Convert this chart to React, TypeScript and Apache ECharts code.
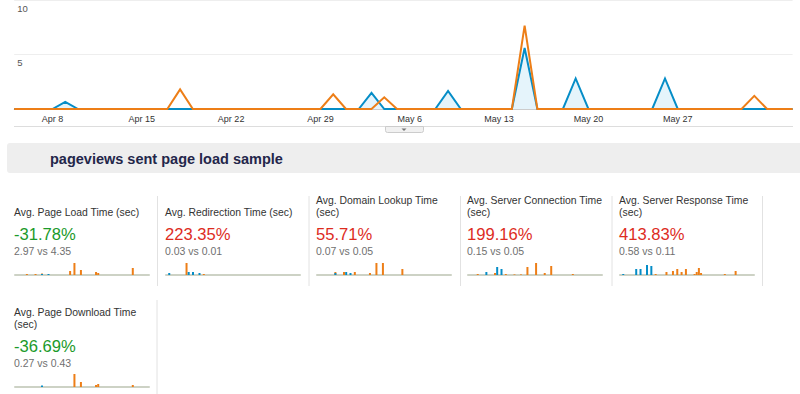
import React, { useEffect, useRef } from "react";
import * as echarts from "echarts";

// ---------- data ----------
const MONTHS = ["Jan", "Feb", "Mar", "Apr", "May", "Jun", "Jul", "Aug", "Sep", "Oct", "Nov", "Dec"];
const START_YEAR = 2013;
const START_MONTH = 3; // April (0-based)
const START_DAY = 5;
const DAY_COUNT = 62; // Apr 5 .. Jun 5

const dates: string[] = [];
for (let i = 0; i < DAY_COUNT; i++) {
  const d = new Date(Date.UTC(START_YEAR, START_MONTH, START_DAY + i));
  dates.push(`${MONTHS[d.getUTCMonth()]} ${d.getUTCDate()}`);
}

const xTickLabels = ["Apr 8", "Apr 15", "Apr 22", "Apr 29", "May 6", "May 13", "May 20", "May 27"];
const yTickInterval = 5;
const yMax = 10;

// main chart: non-zero days (all other days are 0)
const blueMain: [string, number][] = [
  ["Apr 9", 0.65],
  ["May 3", 1.47],
  ["May 9", 1.65],
  ["May 15", 5.6],
  ["May 19", 2.8],
  ["May 26", 2.8],
];
const orangeMain: [string, number][] = [
  ["Apr 18", 1.8],
  ["Apr 30", 1.35],
  ["May 4", 1.07],
  ["May 15", 7.65],
  ["Jun 2", 1.2],
];

const headerTitle = "pageviews sent page load sample";

const cardTitles: string[][] = [
  ["Avg. Page Load Time (sec)"],
  ["Avg. Redirection Time (sec)"],
  ["Avg. Domain Lookup Time", "(sec)"],
  ["Avg. Server Connection Time", "(sec)"],
  ["Avg. Server Response Time", "(sec)"],
  ["Avg. Page Download Time", "(sec)"],
];
const cardChanges = ["-31.78%", "223.35%", "55.71%", "199.16%", "413.83%", "-36.69%"];
const cardComparisons = ["2.97 vs 4.35", "0.03 vs 0.01", "0.07 vs 0.05", "0.15 vs 0.05", "0.58 vs 0.11", "0.27 vs 0.43"];

// sparklines: [day index, relative value]
const sparkBlue: [number, number][][] = [
  [[12, 1], [15, 1]],
  [[1, 2], [10, 3], [12, 3], [15, 2]],
  [[8, 2], [13, 3], [15, 2]],
  [[8, 3], [13, 8], [15, 6]],
  [[1, 1], [7, 6], [9, 6], [12, 10], [14, 9]],
  [[12, 1.5]],
];
const sparkOrange: [number, number][][] = [
  [[5, 1], [9, 1], [12, 1.5], [25, 4], [27, 12], [30, 5], [37, 3], [38, 2], [54, 7]],
  [[9, 12], [17, 1]],
  [[8, 3], [12, 3], [17, 3], [24, 2], [27, 12], [30, 12], [39, 6]],
  [[4, 1], [12, 2], [17, 1], [21, 0.6], [24, 0.6], [27, 8], [31, 12], [35, 2], [38, 9], [48, 1]],
  [[16, 1], [21, 3], [24, 4], [26, 6], [28, 3], [30, 6], [34, 1], [35, 3], [36, 7], [37, 2], [48, 1], [53, 4]],
  [[27, 13], [30, 5], [37, 2], [38, 3], [54, 2]],
];

// ---------- styles ----------
const BLUE = "#058dc7";
const ORANGE = "#ed7e17";
const GREEN = "#1b9a2a";
const RED = "#dd2c1e";
const FONT = '"Liberation Sans", Arial, sans-serif';

const fullFromDates = (pairs: [string, number][]) => {
  const arr = dates.map(() => 0);
  pairs.forEach(([d, v]) => {
    const i = dates.indexOf(d);
    if (i >= 0) arr[i] = v;
  });
  return arr;
};
const fullFromIndex = (pairs: [number, number][]) => {
  const arr = dates.map(() => 0);
  pairs.forEach(([i, v]) => {
    arr[i] = v;
  });
  return arr;
};

// card layout
const cardX = [14, 165, 316, 467, 619, 14];
const cardRowOffset = [0, 0, 0, 0, 0, 112];
const separatorsRow1 = [157, 308.5, 460, 611.5, 762];

function text(x: number, y: number, str: string, size: number, color: string, weight = "normal") {
  return {
    type: "text",
    x,
    y,
    silent: true,
    style: {
      text: str,
      fill: color,
      font: `${weight} ${size}px ${FONT}`,
      align: "left",
      textAlign: "left",
      verticalAlign: "middle",
      textVerticalAlign: "middle",
    },
  };
}

export default function App() {
  const ref = useRef<HTMLDivElement>(null);

  useEffect(() => {
    if (!ref.current) return;
    const chart = echarts.init(ref.current, undefined, { renderer: "svg" });

    const grids: any[] = [
      { left: 14.2, right: 7.4, top: -1, height: 110, containLabel: false },
    ];
    const xAxes: any[] = [
      {
        type: "category",
        gridIndex: 0,
        data: dates,
        boundaryGap: false,
        axisLine: { show: true, lineStyle: { color: "#cccccc", width: 1 } },
        axisTick: { show: false },
        splitLine: { show: false },
        axisLabel: {
          interval: (_i: number, v: string) => xTickLabels.includes(v),
          color: "#333333",
          fontSize: 9,
          fontFamily: FONT,
          margin: 5,
        },
      },
    ];
    const yAxes: any[] = [
      {
        type: "value",
        gridIndex: 0,
        min: 0,
        max: yMax,
        interval: yTickInterval,
        axisLine: { show: false },
        axisTick: { show: false },
        splitLine: { show: true, lineStyle: { color: "#eeeeee", width: 1 } },
        axisLabel: {
          inside: true,
          margin: 3,
          verticalAlign: "top",
          padding: [3, 0, 0, 0],
          color: "#555555",
          fontSize: 9.5,
          fontFamily: FONT,
          formatter: (v: number) => (v === 0 ? "" : String(v)),
        },
      },
    ];
    const series: any[] = [
      {
        type: "line",
        xAxisIndex: 0,
        yAxisIndex: 0,
        data: fullFromDates(blueMain),
        symbol: "none",
        lineStyle: { color: BLUE, width: 2, join: "miter", miterLimit: 10 },
        areaStyle: { color: "#e5f4fb", opacity: 1 },
        z: 2,
      },
      {
        type: "line",
        xAxisIndex: 0,
        yAxisIndex: 0,
        data: fullFromDates(orangeMain),
        symbol: "none",
        lineStyle: { color: ORANGE, width: 2, join: "miter", miterLimit: 10 },
        z: 3,
      },
    ];

    const graphics: any[] = [];

    // bottom line and tab under main chart
    graphics.push({
      type: "line",
      silent: true,
      shape: { x1: 14, y1: 126.5, x2: 793, y2: 126.5 },
      style: { stroke: "#dddddd", lineWidth: 1 },
    });
    graphics.push({
      type: "rect",
      silent: true,
      shape: { x: 385.5, y: 126.5, width: 38, height: 6, r: [0, 0, 2, 2] },
      style: { fill: "#f1f1f1", stroke: "#cccccc", lineWidth: 1 },
    });
    graphics.push({
      type: "polygon",
      silent: true,
      shape: { points: [[401.5, 128.5], [406.5, 128.5], [404, 131]] },
      style: { fill: "#777777" },
    });

    // header bar
    graphics.push({
      type: "rect",
      silent: true,
      shape: { x: 7, y: 143, width: 800, height: 30, r: 3 },
      style: { fill: "#eeeeee" },
    });
    graphics.push(text(50, 158.5, headerTitle, 14.5, "#23264a", "bold"));

    // separators
    separatorsRow1.forEach((sx) => {
      graphics.push({
        type: "line",
        silent: true,
        shape: { x1: sx + 0.5, y1: 196, x2: sx + 0.5, y2: 286 },
        style: { stroke: "#e2e2e2", lineWidth: 1 },
      });
    });
    graphics.push({
      type: "line",
      silent: true,
      shape: { x1: 157, y1: 300, x2: 157, y2: 394 },
      style: { stroke: "#e2e2e2", lineWidth: 1 },
    });

    // cards
    cardTitles.forEach((lines, k) => {
      const x = cardX[k];
      const off = cardRowOffset[k];
      if (lines.length === 1) {
        graphics.push(text(x, 212.3 + off, lines[0], 10.4, "#333333"));
      } else {
        graphics.push(text(x, 200 + off, lines[0], 10.4, "#333333"));
        graphics.push(text(x, 212 + off, lines[1], 10.4, "#333333"));
      }
      const ch = cardChanges[k];
      graphics.push(text(x, 234 + off, ch, 16.6, ch.startsWith("-") ? GREEN : RED));
      graphics.push(text(x, 251.2 + off, cardComparisons[k], 10.5, "#707070"));

      // sparkline grid
      const gi = k + 1;
      const baseline = 275 + off;
      grids.push({ left: x + 1, width: 134, top: baseline - 16, height: 16, containLabel: false });
      xAxes.push({
        type: "category",
        gridIndex: gi,
        data: dates,
        boundaryGap: true,
        axisLine: { show: true, lineStyle: { color: "#cdd2c5", width: 2 } },
        axisTick: { show: false },
        axisLabel: { show: false },
        splitLine: { show: false },
      });
      yAxes.push({
        type: "value",
        gridIndex: gi,
        min: 0,
        max: 16,
        show: false,
        splitLine: { show: false },
      });
      series.push({
        type: "bar",
        xAxisIndex: gi,
        yAxisIndex: gi,
        data: fullFromIndex(sparkBlue[k]),
        barWidth: 2,
        barGap: "-100%",
        itemStyle: { color: BLUE },
        z: 3,
      });
      series.push({
        type: "bar",
        xAxisIndex: gi,
        yAxisIndex: gi,
        data: fullFromIndex(sparkOrange[k]),
        barWidth: 2,
        barGap: "-100%",
        itemStyle: { color: ORANGE },
        z: 2,
      });
    });

    chart.setOption({
      animation: false,
      backgroundColor: "#ffffff",
      textStyle: { fontFamily: FONT },
      grid: grids,
      xAxis: xAxes,
      yAxis: yAxes,
      series,
      graphic: graphics,
    });

    return () => chart.dispose();
  }, []);

  return (
    <div
      ref={ref}
      style={{ position: "absolute", left: 0, top: 0, width: 800, height: 394, background: "#fff" }}
    />
  );
}
